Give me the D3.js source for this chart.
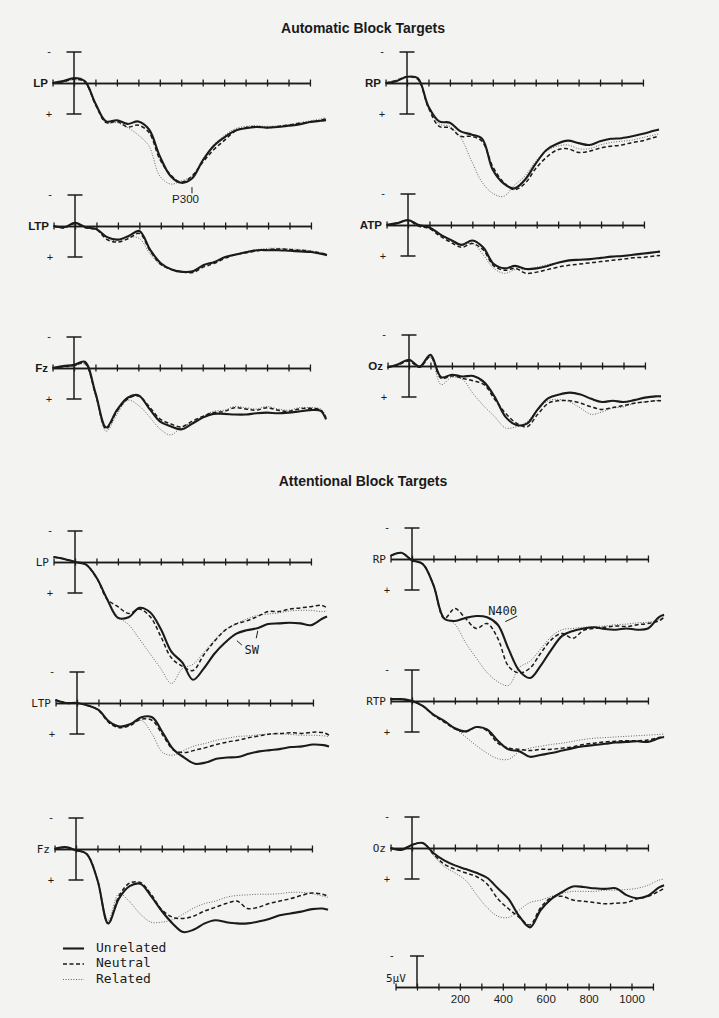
<!DOCTYPE html>
<html>
<head>
<meta charset="utf-8">
<script src="https://cdn.jsdelivr.net/npm/d3@7"></script>
<style>
  body { margin: 0; background: #f3f3f1; }
  svg { display: block; }
  .title { font-family: "Liberation Sans", Arial, sans-serif; font-weight: bold; font-size: 14px; fill: #1a1a1a; }
  .lab-a { font-family: "Liberation Sans", Arial, sans-serif; font-weight: bold; font-size: 11.5px; fill: #1a1a1a; }
  .lab-b { font-family: "DejaVu Sans Mono", monospace; font-size: 11px; fill: #1a1a1a; }
  .mono { font-family: "DejaVu Sans Mono", monospace; font-size: 13px; fill: #1a1a1a; }
  .sign { font-family: "Liberation Sans", Arial, sans-serif; font-size: 11px; fill: #1a1a1a; }
</style>
</head>
<body>
<svg id="chart" width="719" height="1018"></svg>
<script>
// sample times (ms)
const times = [-100, -50, 0, 50, 100, 150, 200, 250, 300, 350, 400, 450, 500, 550, 600, 650, 700, 750, 800, 850, 900, 950, 1000, 1050, 1100, 1150, 1175];
const conditions = ["Unrelated", "Neutral", "Related"];
const tickTimes = [-100, 0, 100, 200, 300, 400, 500, 600, 700, 800, 900, 1000, 1100];
const scaleLabels = [200, 400, 600, 800, 1000];

// amplitudes in microvolts, positive plotted downward
// Automatic block targets
const autoLP_U = [0, -0.3, -0.8, -0.3, 3.3, 6.2, 6.0, 6.6, 6.2, 7.5, 11.8, 15.0, 16.1, 15.4, 12.5, 10.2, 8.8, 7.7, 7.3, 7.1, 7.2, 7.1, 6.9, 6.7, 6.3, 6.1, 6.0];
const autoLP_N = [0, -0.2, -0.6, -0.2, 3.5, 6.4, 6.2, 7.1, 6.8, 8.0, 12.3, 14.8, 16.0, 15.0, 12.8, 10.8, 9.3, 7.8, 7.2, 7.0, 7.2, 7.0, 6.8, 6.5, 6.3, 6.0, 5.8];
const autoLP_R = [0, -0.2, -0.5, -0.2, 3.5, 6.4, 6.4, 7.2, 8.4, 10.2, 15.0, 16.3, 15.8, 15.0, 12.3, 10.0, 8.5, 7.4, 7.0, 6.9, 7.0, 6.9, 6.7, 6.4, 6.1, 5.8, 5.6];

const autoRP_U = [0, -0.3, -1.0, -0.8, 3.8, 6.2, 6.4, 7.8, 8.3, 9.0, 14.0, 16.2, 17.0, 15.6, 13.0, 10.8, 9.8, 9.3, 9.7, 10.0, 9.4, 9.0, 8.9, 8.6, 8.2, 7.7, 7.5];
const autoRP_N = [0, -0.4, -1.0, -0.6, 4.0, 7.0, 7.2, 8.6, 8.6, 9.4, 13.5, 16.0, 17.2, 16.2, 13.8, 12.0, 10.8, 10.6, 11.2, 11.0, 10.5, 10.2, 10.0, 9.6, 9.3, 8.8, 8.6];
const autoRP_R = [0, -0.5, -1.0, -0.6, 3.8, 6.6, 7.0, 8.8, 12.5, 16.0, 17.8, 18.3, 16.5, 15.0, 12.6, 11.0, 10.2, 10.0, 10.6, 10.6, 10.0, 9.6, 9.4, 9.2, 8.8, 8.4, 8.2];

const autoLTP_U = [0, 0.2, -0.5, 0.2, 0.5, 1.8, 2.2, 1.6, 0.8, 3.8, 6.0, 7.0, 7.4, 7.3, 6.3, 5.8, 5.0, 4.6, 4.2, 3.9, 3.9, 3.9, 4.0, 4.1, 4.2, 4.5, 4.7];
const autoLTP_N = [0, 0.3, -0.4, 0.3, 0.6, 2.2, 2.6, 2.0, 1.2, 4.0, 6.2, 7.0, 7.4, 7.5, 6.6, 6.0, 5.2, 4.6, 4.3, 4.0, 3.8, 3.7, 3.8, 3.9, 4.1, 4.4, 4.6];
const autoLTP_R = [0, 0.2, -0.4, 0.2, 0.5, 2.0, 2.4, 1.8, 2.0, 4.5, 6.3, 7.0, 7.3, 7.2, 6.4, 5.8, 5.0, 4.5, 4.1, 3.8, 3.6, 3.6, 3.7, 3.8, 4.0, 4.4, 4.6];

const autoRTP_U = [0, -0.3, -0.8, 0, 0.4, 1.5, 2.4, 3.2, 2.5, 3.6, 6.3, 7.0, 6.6, 7.1, 7.0, 6.6, 6.1, 5.7, 5.6, 5.5, 5.3, 5.1, 5.0, 4.8, 4.6, 4.4, 4.3];
const autoRTP_N = [0, -0.3, -0.7, 0.2, 0.6, 1.8, 2.8, 3.6, 3.0, 4.0, 6.6, 7.3, 7.0, 7.8, 7.6, 7.2, 6.8, 6.5, 6.3, 6.1, 5.9, 5.7, 5.5, 5.3, 5.2, 5.0, 4.9];
const autoRTP_R = [0, -0.3, -0.7, 0.1, 0.5, 1.6, 2.6, 3.3, 2.9, 4.8, 7.0, 7.8, 7.2, 7.2, 6.8, 6.4, 6.0, 5.8, 5.7, 5.5, 5.3, 5.1, 4.9, 4.7, 4.5, 4.3, 4.2];

const autoFz_U = [0, -0.3, -0.5, -1.0, 4.0, 9.6, 6.8, 4.8, 4.4, 6.5, 8.6, 9.4, 9.9, 9.0, 8.0, 7.4, 7.4, 7.5, 7.5, 7.3, 7.2, 7.3, 7.2, 7.0, 6.8, 6.9, 8.3];
const autoFz_N = [0, -0.2, -0.4, -0.8, 4.2, 9.8, 7.0, 5.0, 4.5, 6.2, 8.2, 9.0, 9.5, 8.6, 7.8, 7.2, 7.0, 6.4, 6.6, 6.8, 6.4, 6.8, 7.0, 6.6, 6.5, 6.8, 8.0];
const autoFz_R = [0, -0.2, -0.3, -0.6, 4.4, 10.2, 7.5, 5.2, 6.0, 7.8, 9.8, 10.8, 9.6, 8.8, 7.8, 7.0, 6.8, 6.2, 6.4, 6.6, 6.2, 6.6, 6.8, 6.4, 6.4, 6.6, 7.8];

const autoOz_U = [0.2, -0.3, -1.0, 0.1, -1.8, 1.8, 1.4, 1.7, 1.6, 2.6, 5.0, 8.2, 9.5, 9.3, 7.0, 5.2, 4.6, 4.3, 4.6, 5.3, 5.8, 5.6, 5.8, 5.5, 5.1, 4.9, 4.9];
const autoOz_N = [0.2, -0.2, -0.8, 0.2, -1.5, 2.0, 1.6, 2.0, 2.4, 3.0, 5.4, 7.6, 9.2, 9.8, 7.8, 6.0, 5.6, 5.6, 6.0, 6.6, 7.0, 6.7, 6.4, 6.0, 5.8, 5.6, 5.6];
const autoOz_R = [0.2, -0.2, -0.8, 0.2, -1.4, 3.0, 1.8, 2.2, 4.5, 6.5, 8.2, 10.0, 9.8, 9.0, 7.0, 5.6, 5.4, 5.8, 6.8, 7.8, 7.4, 6.8, 6.6, 6.0, 5.8, 5.6, 5.4];

// Attentional block targets
const attnLP_U = [-0.8, -0.5, 0, 0.4, 2.5, 6.0, 9.0, 8.9, 7.4, 8.1, 10.8, 14.5, 16.2, 19.0, 17.2, 14.8, 13.0, 11.6, 11.0, 10.7, 10.0, 9.9, 9.8, 9.9, 10.2, 9.2, 8.8];
const attnLP_N = [-0.8, -0.5, 0, 0.4, 2.5, 6.0, 7.2, 8.3, 7.6, 8.8, 12.0, 15.5, 16.8, 17.5, 15.0, 12.8, 11.0, 10.0, 9.5, 8.8, 8.0, 8.0, 7.6, 7.4, 7.2, 7.0, 7.4];
const attnLP_R = [-0.8, -0.5, 0, 0.4, 2.5, 6.0, 8.8, 10.1, 12.4, 14.8, 17.2, 19.6, 17.2, 16.5, 14.6, 12.6, 11.0, 10.0, 9.2, 8.6, 8.4, 8.2, 7.9, 7.8, 7.8, 8.0, 7.9];

const attnRP_U = [-0.5, -1.0, 0.2, 0.8, 4.2, 9.6, 10.0, 9.5, 9.2, 9.4, 10.6, 14.5, 18.0, 19.2, 17.2, 14.6, 12.4, 11.6, 11.2, 11.0, 11.3, 11.4, 11.2, 11.4, 11.2, 9.4, 9.0];
const attnRP_N = [-0.5, -1.0, 0.2, 0.8, 4.2, 9.6, 8.0, 9.6, 11.2, 10.4, 12.8, 17.3, 18.4, 17.6, 15.2, 13.0, 12.0, 12.8, 11.5, 11.2, 11.0, 10.8, 10.9, 10.6, 10.4, 10.0, 9.4];
const attnRP_R = [-0.5, -1.0, 0.2, 0.8, 4.2, 9.4, 10.5, 13.5, 16.0, 18.3, 19.8, 20.4, 17.5, 16.5, 14.5, 12.5, 11.4, 11.2, 11.0, 10.9, 10.8, 10.6, 10.5, 10.3, 10.2, 9.8, 9.2];

const attnLTP_U = [-0.5, 0, 0, 0.4, 1.1, 3.0, 3.8, 3.4, 2.3, 2.3, 4.8, 7.5, 8.8, 9.8, 9.6, 9.0, 8.8, 8.7, 8.2, 7.8, 7.6, 7.4, 7.1, 7.0, 6.7, 6.8, 7.0];
const attnLTP_N = [-0.5, 0, 0, 0.4, 1.2, 3.2, 4.0, 3.6, 2.6, 2.8, 5.2, 7.6, 8.0, 7.6, 7.2, 6.7, 6.3, 6.0, 5.6, 5.3, 5.0, 4.9, 4.8, 4.9, 4.7, 4.8, 5.2];
const attnLTP_R = [-0.5, 0, 0, 0.4, 1.2, 3.0, 3.8, 3.4, 2.8, 5.0, 8.0, 8.4, 7.6, 6.9, 6.5, 6.0, 5.7, 5.4, 5.3, 5.1, 5.0, 5.0, 5.1, 5.2, 5.2, 5.3, 5.4];

const attnRTP_U = [-0.3, -0.3, 0, 0.8, 2.2, 3.2, 4.4, 4.9, 4.2, 4.6, 6.4, 7.8, 8.1, 9.0, 8.7, 8.4, 8.0, 7.6, 7.3, 7.1, 6.9, 6.7, 6.6, 6.5, 6.6, 6.0, 5.8];
const attnRTP_N = [-0.3, -0.3, 0, 0.8, 2.3, 3.4, 4.5, 5.0, 4.2, 4.8, 6.8, 7.6, 7.8, 8.0, 7.8, 7.8, 7.6, 7.4, 7.0, 6.8, 6.6, 6.5, 6.4, 6.4, 6.3, 5.9, 5.7];
const attnRTP_R = [-0.3, -0.3, 0, 0.8, 2.2, 3.2, 4.4, 5.8, 7.2, 8.4, 9.3, 9.4, 8.2, 7.6, 7.3, 7.0, 6.8, 6.5, 6.2, 6.0, 5.9, 5.8, 5.7, 5.6, 5.5, 5.4, 5.3];

const attnFz_U = [0, -0.3, 0.2, 0.8, 5.0, 12.0, 8.0, 6.0, 5.6, 7.6, 10.0, 12.0, 13.4, 13.0, 12.0, 11.5, 11.8, 12.0, 12.0, 11.7, 11.3, 10.7, 10.4, 10.1, 9.7, 9.6, 9.8];
const attnFz_N = [0, -0.3, 0.2, 0.8, 5.0, 12.0, 7.6, 5.5, 5.4, 7.3, 9.8, 11.0, 11.2, 10.8, 10.0, 9.4, 8.8, 8.4, 9.6, 9.4, 8.8, 8.4, 8.0, 7.5, 7.1, 7.3, 7.6];
const attnFz_R = [0, -0.3, 0.2, 0.8, 5.0, 11.5, 7.2, 8.5, 10.5, 11.8, 11.8, 11.4, 10.5, 9.5, 8.8, 8.4, 7.8, 7.5, 7.4, 7.3, 7.3, 7.2, 7.0, 7.0, 7.2, 7.6, 7.8];

const attnOz_U = [0, 0.3, -0.5, -0.8, 0.8, 2.0, 2.8, 3.4, 4.0, 4.8, 6.5, 8.2, 11.0, 12.8, 10.0, 8.2, 7.1, 6.2, 6.3, 6.5, 6.6, 6.5, 7.6, 8.1, 7.7, 6.4, 6.0];
const attnOz_N = [0, 0.3, -0.5, -0.8, 1.0, 2.6, 3.4, 4.0, 4.6, 5.8, 8.2, 9.8, 11.2, 12.4, 9.6, 8.0, 7.8, 8.4, 8.6, 8.8, 9.0, 8.9, 8.8, 8.2, 7.8, 7.0, 6.5];
const attnOz_R = [0, 0.3, -0.5, -0.8, 1.2, 3.0, 4.0, 5.2, 7.5, 9.6, 11.0, 11.2, 10.0, 8.8, 8.4, 7.8, 7.3, 7.0, 7.0, 7.0, 6.8, 6.8, 6.7, 6.5, 6.0, 5.2, 5.0];

// panel layout: x0 = pixel of 0 ms, base = pixel of 0 uV
const panels = [
  { name: "LP",  font: "a", x0: 74,  base: 83,  series: [autoLP_U, autoLP_N, autoLP_R] },
  { name: "RP",  font: "a", x0: 407, base: 83,  series: [autoRP_U, autoRP_N, autoRP_R] },
  { name: "LTP", font: "a", x0: 75,  base: 226, series: [autoLTP_U, autoLTP_N, autoLTP_R] },
  { name: "ATP", font: "a", x0: 408, base: 225, series: [autoRTP_U, autoRTP_N, autoRTP_R] },
  { name: "Fz",  font: "a", x0: 74,  base: 368, series: [autoFz_U, autoFz_N, autoFz_R] },
  { name: "Oz",  font: "a", x0: 409, base: 366, series: [autoOz_U, autoOz_N, autoOz_R] },
  { name: "LP",  font: "b", x0: 75,  base: 562, series: [attnLP_U, attnLP_N, attnLP_R] },
  { name: "RP",  font: "b", x0: 412, base: 559, series: [attnRP_U, attnRP_N, attnRP_R] },
  { name: "LTP", font: "b", x0: 77,  base: 703, series: [attnLTP_U, attnLTP_N, attnLTP_R] },
  { name: "RTP", font: "b", x0: 412, base: 701, series: [attnRTP_U, attnRTP_N, attnRTP_R] },
  { name: "Fz",  font: "b", x0: 76,  base: 849, series: [attnFz_U, attnFz_N, attnFz_R] },
  { name: "Oz",  font: "b", x0: 412, base: 848, series: [attnOz_U, attnOz_N, attnOz_R] }
];

const ink = "#1b1b1b";
const pxPer100ms = 21.45;
const pxPer5uV = 31;

const styles = [
  { width: 2.1, dash: null, color: ink },
  { width: 1.5, dash: "4,2.5", color: ink },
  { width: 1.0, dash: "1,1.6", color: "#666" }
];

const svg = d3.select("#chart");

// titles
svg.append("text").attr("class", "title").attr("x", 363).attr("y", 33)
  .attr("text-anchor", "middle").text("Automatic Block Targets");
svg.append("text").attr("class", "title").attr("x", 363).attr("y", 486)
  .attr("text-anchor", "middle").text("Attentional Block Targets");

function drawPanel(p) {
  const x = d3.scaleLinear().domain([-100, 1100])
    .range([p.x0 - pxPer100ms, p.x0 + 11 * pxPer100ms]);
  const y = d3.scaleLinear().domain([0, 5]).range([p.base, p.base + pxPer5uV]);
  const g = svg.append("g");

  // time axis with ticks crossing the line
  g.append("g").attr("transform", `translate(0,${p.base})`)
    .call(d3.axisBottom(x).tickValues(tickTimes).tickSize(3.5).tickSizeOuter(0).tickFormat(""));
  g.append("g").attr("transform", `translate(0,${p.base})`)
    .call(d3.axisTop(x).tickValues(tickTimes).tickSize(3.5).tickSizeOuter(0).tickFormat(""));
  g.selectAll(".domain, .tick line").attr("stroke", ink).attr("stroke-width", 1.3);

  // calibration bar at 0 ms: -5 to +5 uV
  const bx = x(0);
  g.append("line").attr("x1", bx).attr("x2", bx).attr("y1", y(-5)).attr("y2", y(5))
    .attr("stroke", ink).attr("stroke-width", 1.5);
  [-5, 5].forEach(v => {
    g.append("line").attr("x1", bx - 7.5).attr("x2", bx + 7.5).attr("y1", y(v)).attr("y2", y(v))
      .attr("stroke", ink).attr("stroke-width", 1.5);
  });
  g.append("text").attr("class", "sign").attr("x", bx - 25).attr("y", y(-5) + 3)
    .attr("text-anchor", "middle").text("-");
  g.append("text").attr("class", "sign").attr("x", bx - 25).attr("y", y(5) + 4)
    .attr("text-anchor", "middle").text("+");

  // channel label
  g.append("text").attr("class", p.font === "a" ? "lab-a" : "lab-b")
    .attr("x", bx - 26).attr("y", p.base + 4).attr("text-anchor", "end").text(p.name);

  // waveforms, drawn related first so the solid trace is on top
  const line = d3.line().curve(d3.curveCatmullRom.alpha(0.5))
    .x((d, i) => x(times[i])).y(d => y(d));
  [2, 1, 0].forEach(k => {
    g.append("path").datum(p.series[k]).attr("d", line)
      .attr("fill", "none").attr("stroke", styles[k].color)
      .attr("stroke-width", styles[k].width)
      .attr("stroke-dasharray", styles[k].dash)
      .attr("stroke-linejoin", "round");
  });
  return { x, y };
}

const scales = panels.map(drawPanel);

// annotations
const aLP = scales[0];
svg.append("line").attr("x1", aLP.x(550)).attr("x2", aLP.x(550)).attr("y1", aLP.y(16.8)).attr("y2", aLP.y(17.8))
  .attr("stroke", ink).attr("stroke-width", 1);
svg.append("text").attr("class", "lab-a").style("font-weight", "normal").style("font-size", "11.5px")
  .attr("x", aLP.x(520)).attr("y", aLP.y(19.4)).attr("text-anchor", "middle").text("P300");

const bLP = scales[6];
svg.append("text").attr("class", "lab-b").style("font-size", "12px")
  .attr("x", bLP.x(790)).attr("y", bLP.y(14.8)).attr("text-anchor", "start").text("SW");
svg.append("line").attr("x1", bLP.x(755)).attr("x2", bLP.x(778)).attr("y1", bLP.y(12.7)).attr("y2", bLP.y(13.4))
  .attr("stroke", ink).attr("stroke-width", 1);
svg.append("line").attr("x1", bLP.x(852)).attr("x2", bLP.x(845)).attr("y1", bLP.y(11.1)).attr("y2", bLP.y(12.3))
  .attr("stroke", ink).attr("stroke-width", 1);

const bRP = scales[7];
svg.append("text").attr("class", "lab-b").style("font-size", "12px")
  .attr("x", bRP.x(355)).attr("y", bRP.y(9.0)).attr("text-anchor", "start").text("N400");
svg.append("line").attr("x1", bRP.x(490)).attr("x2", bRP.x(435)).attr("y1", bRP.y(9.2)).attr("y2", bRP.y(10.1))
  .attr("stroke", ink).attr("stroke-width", 1);

// legend
const legend = svg.append("g");
conditions.forEach((c, i) => {
  const ly = 948.5 + i * 15.5;
  legend.append("line").attr("x1", 63).attr("x2", 84).attr("y1", ly).attr("y2", ly)
    .attr("stroke", styles[i].color).attr("stroke-width", styles[i].width)
    .attr("stroke-dasharray", styles[i].dash);
  legend.append("text").attr("class", "mono").attr("x", 96).attr("y", ly + 3).text(c);
});

// scale bar: 5 uV and time axis with labels
const sx = d3.scaleLinear().domain([-100, 1100]).range([417 - pxPer100ms, 417 + 11 * pxPer100ms]);
const sy = d3.scaleLinear().domain([0, 5]).range([987, 987 + pxPer5uV]);
const sg = svg.append("g");
sg.append("g").attr("transform", "translate(0,987)")
  .call(d3.axisBottom(sx).tickValues(tickTimes).tickSize(3.5).tickSizeOuter(0)
    .tickFormat(d => scaleLabels.includes(d) ? d : ""));
sg.append("g").attr("transform", "translate(0,987)")
  .call(d3.axisTop(sx).tickValues(tickTimes).tickSize(3.5).tickSizeOuter(0).tickFormat(""));
sg.selectAll(".domain, .tick line").attr("stroke", ink).attr("stroke-width", 1.3);
sg.selectAll(".tick text").attr("fill", ink).attr("dy", "0.8em")
  .style("font-family", "\"Liberation Sans\", Arial, sans-serif").style("font-size", "11.5px");
sg.append("line").attr("x1", sx(0)).attr("x2", sx(0)).attr("y1", sy(0)).attr("y2", sy(-5))
  .attr("stroke", ink).attr("stroke-width", 1.5);
sg.append("line").attr("x1", sx(0) - 7).attr("x2", sx(0) + 7).attr("y1", sy(-5)).attr("y2", sy(-5))
  .attr("stroke", ink).attr("stroke-width", 1.5);
sg.append("text").attr("class", "sign").attr("x", sx(0) - 27).attr("y", sy(-5) + 3).text("-");
sg.append("text").attr("class", "lab-b").attr("x", sx(0) - 31).attr("y", 982).text("5µV");
</script>
</body>
</html>
